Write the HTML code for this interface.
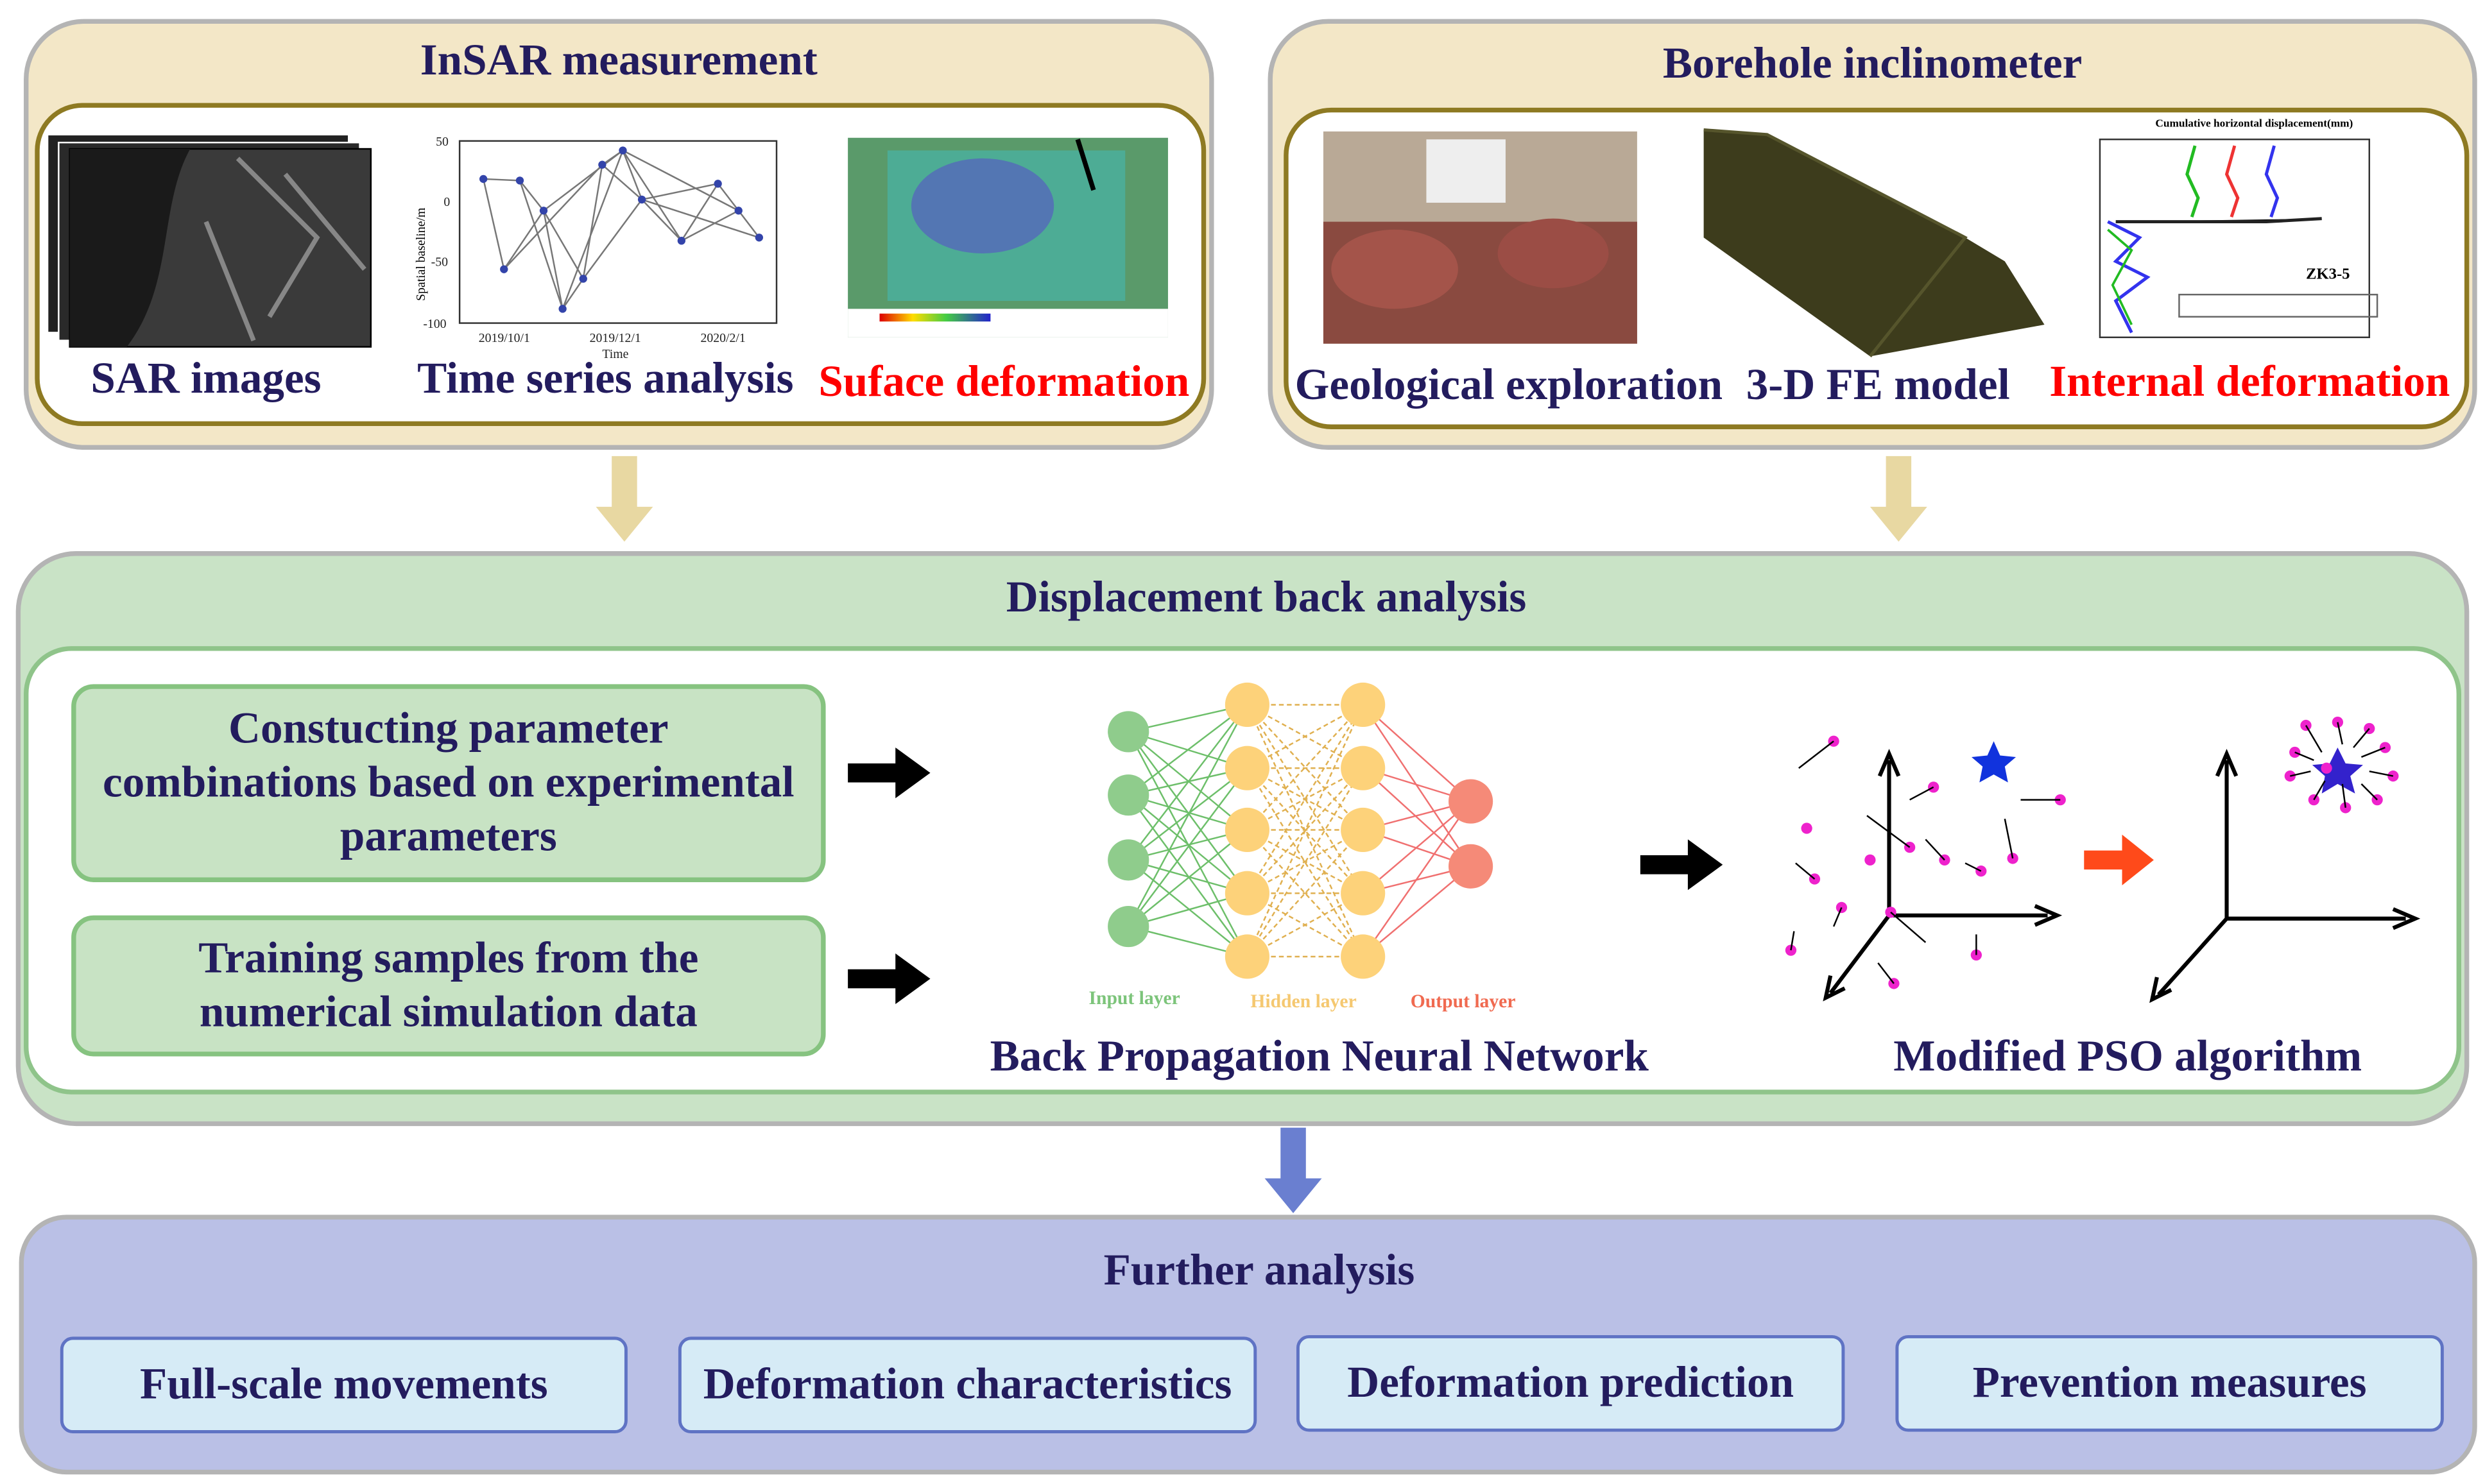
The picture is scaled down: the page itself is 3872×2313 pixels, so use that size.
<!DOCTYPE html>
<html><head><meta charset="utf-8">
<style>
html,body{margin:0;padding:0;background:#fff;}
body{width:3872px;height:2313px;overflow:hidden;position:relative;}
#w{position:absolute;left:0;top:0;width:1568px;height:937px;transform:scale(2.4694,2.4685);transform-origin:0 0;font-family:"Liberation Serif",serif;}
.a{position:absolute;box-sizing:border-box;}
.t{position:absolute;font-weight:bold;color:#231c5e;white-space:nowrap;text-align:center;}
.gb{background:#c8e3c4;border:3px solid #86c380;border-radius:14px;display:flex;align-items:center;justify-content:center;text-align:center;font-weight:bold;color:#231c5e;font-size:28px;line-height:34px;}
.bb{background:#d6ebf6;border:2px solid #5f73c4;border-radius:8px;display:flex;align-items:center;justify-content:center;font-weight:bold;color:#231c5e;font-size:28px;}
</style></head><body><div id="w">

<!-- InSAR -->
<div class="a" style="left:15px;top:12px;width:751px;height:272px;background:#f3e7c7;border:3px solid #b4b4b4;border-radius:38px;"></div>
<div class="t" style="left:15px;width:751px;top:23px;font-size:28px;">InSAR measurement</div>
<div class="a" style="left:22px;top:65px;width:739px;height:204px;background:#fff;border:3px solid #8e7a22;border-radius:30px;"></div>
<!-- Borehole -->
<div class="a" style="left:800px;top:12px;width:763px;height:272px;background:#f3e7c7;border:3px solid #b4b4b4;border-radius:38px;"></div>
<div class="t" style="left:800px;width:763px;top:25px;font-size:28px;">Borehole inclinometer</div>
<div class="a" style="left:810px;top:68px;width:748px;height:203px;background:#fff;border:3px solid #8e7a22;border-radius:30px;"></div>

<svg class="a" style="left:0;top:0" width="1568" height="937">
 <rect x="30" y="85" width="190" height="125" fill="#222" stroke="#fff"/>
 <rect x="37" y="90" width="190" height="125" fill="#2a2a2a" stroke="#fff"/>
 <rect x="44" y="94" width="190" height="125" fill="#3a3a3a" stroke="#000"/>
 <path d="M120 94 C100 130 110 180 80 219 L44 219 L44 94Z" fill="#1a1a1a"/>
 <path d="M150 100 L200 150 L170 200 M180 110 L230 170 M130 140 L160 215" stroke="#bbb" stroke-width="3" fill="none" opacity=".6"/>
 <rect x="290" y="89" width="200" height="115" fill="none" stroke="#333"/>
 <g font-size="8" fill="#222" font-family="Liberation Serif"><text x="275" y="92">50</text><text x="280" y="130">0</text><text x="272" y="168">-50</text><text x="267" y="207">-100</text><text x="302" y="216">2019/10/1</text><text x="372" y="216">2019/12/1</text><text x="442" y="216">2020/2/1</text><text x="380" y="226">Time</text></g>
 <text x="268" y="190" font-size="8" transform="rotate(-90 268 190)" font-family="Liberation Serif">Spatial baseline/m</text>
 <g stroke="#777" stroke-width="1" fill="none"><path d="M305 113 L328 114 L343 133 L355 195 L368 176 L380 104 L393 95 L405 126 L430 152 L453 116 L466 133 L479 150 M305 113 L318 170 L343 133 L368 176 L405 126 L453 116 M328 114 L355 195 L393 95 L430 152 L466 133 M318 170 L380 104 L405 126 L479 150 M343 133 L393 95 L466 133"/></g>
 <g fill="#3344aa"><circle cx="305" cy="113" r="2.5"/><circle cx="328" cy="114" r="2.5"/><circle cx="343" cy="133" r="2.5"/><circle cx="355" cy="195" r="2.5"/><circle cx="368" cy="176" r="2.5"/><circle cx="380" cy="104" r="2.5"/><circle cx="393" cy="95" r="2.5"/><circle cx="405" cy="126" r="2.5"/><circle cx="430" cy="152" r="2.5"/><circle cx="453" cy="116" r="2.5"/><circle cx="466" cy="133" r="2.5"/><circle cx="479" cy="150" r="2.5"/><circle cx="318" cy="170" r="2.5"/></g>
 <rect x="535" y="87" width="202" height="126" fill="#5a9a6a"/>
 <rect x="560" y="95" width="150" height="95" fill="#4ab0a0" opacity=".8"/>
 <ellipse cx="620" cy="130" rx="45" ry="30" fill="#5560c0" opacity=".7"/>
 <rect x="535" y="195" width="202" height="18" fill="#fff"/>
 <defs><linearGradient id="g1"><stop offset="0" stop-color="#d00"/><stop offset=".3" stop-color="#fd0"/><stop offset=".6" stop-color="#4c4"/><stop offset="1" stop-color="#22c"/></linearGradient></defs>
 <rect x="555" y="198" width="70" height="5" fill="url(#g1)"/>
 <path d="M680 88 L690 120" stroke="#000" stroke-width="3"/>
 <rect x="835" y="83" width="198" height="134" fill="#b9a996"/>
 <rect x="835" y="140" width="198" height="77" fill="#8a4a40"/>
 <rect x="900" y="88" width="50" height="40" fill="#eee"/>
 <ellipse cx="880" cy="170" rx="40" ry="25" fill="#a4544a"/><ellipse cx="980" cy="160" rx="35" ry="22" fill="#9b4d45"/>
 <path d="M1075 82 L1115 85 L1240 150 L1265 165 L1290 205 L1180 225 L1075 150Z" fill="#3d3c1c"/>
 <path d="M1075 82 L1115 85 L1240 150 L1180 225" fill="none" stroke="#56552c" stroke-width="2"/>
 <rect x="1325" y="88" width="170" height="125" fill="none" stroke="#333"/>
 <text x="1360" y="80" font-size="7" font-family="Liberation Serif" font-weight="bold">Cumulative horizontal displacement(mm)</text>
 <text x="1455" y="176" font-size="10" font-family="Liberation Serif" font-weight="bold">ZK3-5</text>
 <rect x="1375" y="186" width="125" height="14" fill="none" stroke="#666"/>
 <path d="M1335 140 L1430 140 L1465 138" stroke="#222" stroke-width="2"/>
 <path d="M1385 92 L1380 110 L1387 125 L1383 137" stroke="#2b2" fill="none" stroke-width="2"/>
 <path d="M1410 92 L1405 110 L1412 125 L1408 137" stroke="#e33" fill="none" stroke-width="2"/>
 <path d="M1435 92 L1430 110 L1437 125 L1433 137" stroke="#33e" fill="none" stroke-width="2"/>
 <path d="M1330 140 L1350 150 L1335 165 L1355 175 L1335 190 L1345 210" stroke="#33e" fill="none" stroke-width="2"/>
 <path d="M1330 145 L1345 158 L1333 180 L1345 205" stroke="#2b2" fill="none" stroke-width="1.5"/>
 <path d="M386 288 h16 v32 h10 l-18 22 l-18 -22 h10z" fill="#e8d8a2"/>
 <path d="M1190 288 h16 v32 h10 l-18 22 l-18 -22 h10z" fill="#e8d8a2"/>
</svg>
<div class="t" style="left:30px;width:200px;top:224px;font-size:28px;">SAR images</div>
<div class="t" style="left:262px;width:240px;top:224px;font-size:28px;">Time series analysis</div>
<div class="t" style="left:515px;width:237px;top:226px;font-size:28px;color:#ff0000;">Suface deformation</div>
<div class="t" style="left:816px;width:272px;top:228px;font-size:28px;">Geological exploration</div>
<div class="t" style="left:1100px;width:170px;top:228px;font-size:28px;">3-D FE model</div>
<div class="t" style="left:1292px;width:255px;top:226px;font-size:28px;color:#ff0000;">Internal deformation</div>

<!-- Displacement -->
<div class="a" style="left:10px;top:348px;width:1548px;height:363px;background:#c9e3c6;border:3px solid #b4b4b4;border-radius:38px;"></div>
<div class="t" style="left:10px;width:1578px;top:362px;font-size:28px;">Displacement back analysis</div>
<div class="a" style="left:15px;top:408px;width:1538px;height:283px;background:#fff;border:3px solid #8fc48a;border-radius:30px;"></div>
<div class="a gb" style="left:45px;top:432px;width:476px;height:125px;">Constucting parameter<br>combinations based on experimental<br>parameters</div>
<div class="a gb" style="left:45px;top:578px;width:476px;height:89px;">Training samples from the<br>numerical simulation data</div>
<svg class="a" style="left:0;top:0" width="1568" height="937">
 <g fill="#000"><path d="M535 482 h30 v-10 l22 16 l-22 16 v-10 h-30z"/><path d="M535 612 h30 v-10 l22 16 l-22 16 v-10 h-30z"/><path d="M1035 540 h30 v-10 l22 16 l-22 16 v-10 h-30z"/></g>
 <path d="M1315 537 h24 v-10 l20 16 l-20 16 v-10 h-24z" fill="#ff4a1a"/>
 <g stroke="#6dbf6a" stroke-width="1">
  <path d="M712 462 L787 445 M712 462 L787 485 M712 462 L787 524 M712 462 L787 564 M712 462 L787 604 M712 502 L787 445 M712 502 L787 485 M712 502 L787 524 M712 502 L787 564 M712 502 L787 604 M712 543 L787 445 M712 543 L787 485 M712 543 L787 524 M712 543 L787 564 M712 543 L787 604 M712 585 L787 445 M712 585 L787 485 M712 585 L787 524 M712 585 L787 564 M712 585 L787 604"/></g>
 <g stroke="#e0b050" stroke-width="1" stroke-dasharray="3 2">
  <path d="M787 445 L860 445 M787 445 L860 485 M787 445 L860 524 M787 445 L860 564 M787 445 L860 604 M787 485 L860 445 M787 485 L860 485 M787 485 L860 524 M787 485 L860 564 M787 485 L860 604 M787 524 L860 445 M787 524 L860 485 M787 524 L860 524 M787 524 L860 564 M787 524 L860 604 M787 564 L860 445 M787 564 L860 485 M787 564 L860 524 M787 564 L860 564 M787 564 L860 604 M787 604 L860 445 M787 604 L860 485 M787 604 L860 524 M787 604 L860 564 M787 604 L860 604"/></g>
 <g stroke="#f07070" stroke-width="1"><path d="M860 445 L928 506 M860 485 L928 506 M860 524 L928 506 M860 564 L928 506 M860 604 L928 506 M860 445 L928 547 M860 485 L928 547 M860 524 L928 547 M860 564 L928 547 M860 604 L928 547"/></g>
 <g fill="#8fcc8c"><circle cx="712" cy="462" r="13"/><circle cx="712" cy="502" r="13"/><circle cx="712" cy="543" r="13"/><circle cx="712" cy="585" r="13"/></g>
 <g fill="#fdd27a"><circle cx="787" cy="445" r="14"/><circle cx="787" cy="485" r="14"/><circle cx="787" cy="524" r="14"/><circle cx="787" cy="564" r="14"/><circle cx="787" cy="604" r="14"/><circle cx="860" cy="445" r="14"/><circle cx="860" cy="485" r="14"/><circle cx="860" cy="524" r="14"/><circle cx="860" cy="564" r="14"/><circle cx="860" cy="604" r="14"/></g>
 <g fill="#f58a78"><circle cx="928" cy="506" r="14"/><circle cx="928" cy="547" r="14"/></g>
 <g font-size="12" font-family="Liberation Serif" font-weight="bold"><text x="687" y="634" fill="#7cc47a">Input layer</text><text x="789" y="636" fill="#f5c870">Hidden layer</text><text x="890" y="636" fill="#f06a50">Output layer</text></g>
 <g stroke="#000" stroke-width="2.5" fill="none"><path d="M1192 578 V480 M1186 490 L1192 476 L1198 490 M1192 578 H1292 M1284 572 L1298 578 L1284 584 M1192 578 L1155 627 M1155 616 L1152 630 L1164 624"/></g>
 <path d="M1258 468 l4 9 l10 1 l-7 6 l2 10 l-9 -5 l-9 5 l2 -10 l-7 -6 l10 -1z" fill="#1133dd"/>
 <g fill="#ee22cc"><circle cx="1157" cy="468" r="3.5"/><circle cx="1220" cy="497" r="3.5"/><circle cx="1300" cy="505" r="3.5"/><circle cx="1140" cy="523" r="3.5"/><circle cx="1205" cy="535" r="3.5"/><circle cx="1227" cy="543" r="3.5"/><circle cx="1250" cy="550" r="3.5"/><circle cx="1270" cy="542" r="3.5"/><circle cx="1180" cy="543" r="3.5"/><circle cx="1145" cy="555" r="3.5"/><circle cx="1162" cy="573" r="3.5"/><circle cx="1193" cy="576" r="3.5"/><circle cx="1130" cy="600" r="3.5"/><circle cx="1247" cy="603" r="3.5"/><circle cx="1195" cy="621" r="3.5"/></g>
 <g stroke="#000" stroke-width="1"><path d="M1157 468 L1135 485 M1220 497 L1205 505 M1300 505 L1275 505 M1205 535 L1178 515 M1227 543 L1215 530 M1270 542 L1265 517 M1145 555 L1133 545 M1162 573 L1157 585 M1193 576 L1215 595 M1130 600 L1132 588 M1247 603 L1247 590 M1195 621 L1185 608 M1250 550 L1240 545"/></g>
 <g stroke="#000" stroke-width="2.5" fill="none"><path d="M1405 580 V480 M1399 490 L1405 476 L1411 490 M1405 580 H1518 M1510 574 L1524 580 L1510 586 M1405 580 L1362 628 M1361 617 L1358 631 L1370 625"/></g>
 <path d="M1475 472 l5 10 l11 1 l-8 7 l3 11 l-11 -6 l-10 6 l2 -11 l-8 -7 l11 -1z" fill="#3322cc"/>
 <g fill="#ee22cc"><circle cx="1455" cy="458" r="3.5"/><circle cx="1475" cy="456" r="3.5"/><circle cx="1495" cy="460" r="3.5"/><circle cx="1448" cy="475" r="3.5"/><circle cx="1505" cy="472" r="3.5"/><circle cx="1445" cy="490" r="3.5"/><circle cx="1510" cy="490" r="3.5"/><circle cx="1460" cy="505" r="3.5"/><circle cx="1480" cy="510" r="3.5"/><circle cx="1500" cy="505" r="3.5"/><circle cx="1468" cy="485" r="3.5"/></g>
 <g stroke="#000" stroke-width="1"><path d="M1455 458 L1465 475 M1475 456 L1478 470 M1495 460 L1485 472 M1448 475 L1460 480 M1505 472 L1490 478 M1445 490 L1458 487 M1510 490 L1495 487 M1460 505 L1467 493 M1480 510 L1478 495 M1500 505 L1490 495"/></g>
 <path d="M808 712 h16 v32 h10 l-18 22 l-18 -22 h10z" fill="#6a7fd0"/>
</svg>
<div class="t" style="left:615px;width:435px;top:652px;font-size:28px;">Back Propagation Neural Network</div>
<div class="t" style="left:1180px;width:325px;top:652px;font-size:28px;">Modified PSO algorithm</div>

<!-- Further analysis -->
<div class="a" style="left:12px;top:767px;width:1551px;height:164px;background:#bac0e6;border:3px solid #b4b4b4;border-radius:30px;"></div>
<div class="t" style="left:12px;width:1565px;top:787px;font-size:28px;">Further analysis</div>
<div class="a bb" style="left:38px;top:844px;width:358px;height:61px;">Full-scale movements</div>
<div class="a bb" style="left:428px;top:844px;width:365px;height:61px;">Deformation characteristics</div>
<div class="a bb" style="left:818px;top:843px;width:346px;height:61px;">Deformation prediction</div>
<div class="a bb" style="left:1196px;top:843px;width:346px;height:61px;">Prevention measures</div>
</div></body></html>
